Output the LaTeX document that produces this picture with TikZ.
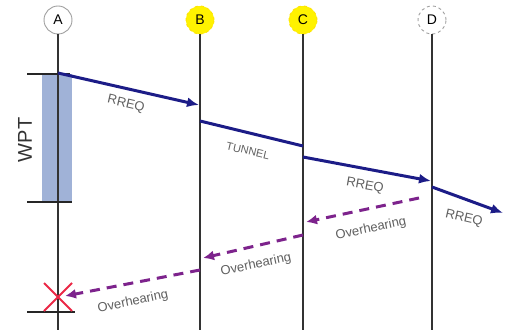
\documentclass[tikz,border=0pt]{standalone}
\usepackage{fontspec}
\setmainfont{Liberation Sans}
\usetikzlibrary{arrows.meta}
\definecolor{navy}{RGB}{28,28,135}
\definecolor{ohpurple}{RGB}{125,35,140}
\definecolor{labelgray}{RGB}{95,95,95}
\definecolor{wptblue}{RGB}{160,178,215}
\definecolor{xred}{RGB}{235,40,70}
\begin{document}
\begin{tikzpicture}[x=1pt,y=-1pt,
  head/.style={circle, draw=gray!75, fill=white, line width=0.9pt,
    minimum size=28pt, inner sep=0pt, font=\fontsize{14}{14}\selectfont},
  activehead/.style={head, fill=yellow, draw=yellow!85!orange, dashed},
  idlehead/.style={head, dashed},
  lifeline/.style={draw=black!80, line width=1.8pt},
  tick/.style={draw=black!85, line width=1.8pt},
  msg/.style={navy, line width=3pt, -{Latex[length=12pt,width=10pt]}},
  tunnelmsg/.style={navy, line width=3pt},
  ohmsg/.style={ohpurple, line width=3pt, dash pattern=on 10pt off 7pt,
    -{Latex[length=11pt,width=10pt]}},
  lbl/.style={text=labelgray, inner sep=0pt, font=\fontsize{13}{13}\selectfont},
  xmark/.style={draw=xred, line width=2pt}
]
\useasboundingbox (0,0) rectangle (505,336);

% waiting period bar at A
\fill[wptblue] (42,74) rectangle (72,202);
\node[rotate=90, text=black!80, font=\fontsize{20}{20}\selectfont] (wpt) at (25,140) {WPT};

% node heads
\node[head] (A) at (58,20) {A};
\node[activehead] (B) at (200,20) {B};
\node[activehead] (C) at (303,20) {C};
\node[idlehead] (D) at (432,20) {D};

% lifeline end points
\coordinate (Aend) at (58,330);
\coordinate (Bend) at (200,330);
\coordinate (Cend) at (303,330);
\coordinate (Dend) at (432,330);

\draw[lifeline] (A) -- (Aend);
\draw[lifeline] (B) -- (Bend);
\draw[lifeline] (C) -- (Cend);
\draw[lifeline] (D) -- (Dend);

% ticks on A
\coordinate (t1a) at (27,74);  \coordinate (t1b) at (70,74);
\coordinate (t2a) at (27,202); \coordinate (t2b) at (72,202);
\coordinate (t3a) at (27,312); \coordinate (t3b) at (75,312);
\draw[tick] (t1a) -- (t1b);
\draw[tick] (t2a) -- (t2b);
\draw[tick] (t3a) -- (t3b);

% message points on the lifelines
\coordinate (A1) at (58,73);
\coordinate (B1) at (199,105);
\coordinate (B2) at (200,121);
\coordinate (C1) at (303,146);
\coordinate (C2) at (303,157);
\coordinate (D1) at (431,181);
\coordinate (D2) at (432,187);
\coordinate (E)  at (503,213);

\draw[msg] (A1) -- (B1);
\draw[tunnelmsg] (B2) -- (C1);
\draw[msg] (C2) -- (D1);
\draw[msg] (D2) -- (E);

\node[lbl, rotate=-13] (l1) at (126,104) {RREQ};
\node[lbl, rotate=-13, font=\fontsize{11}{11}\selectfont] (l2) at (248,151) {TUNNEL};
\node[lbl, rotate=-10] (l3) at (365,186) {RREQ};
\node[lbl, rotate=-13] (l4) at (464,218) {RREQ};

% overheard replies
\coordinate (D3) at (419,198);
\coordinate (C3) at (306,222);
\coordinate (C4) at (303,235);
\coordinate (B3) at (203,258);
\coordinate (B4) at (200,270);
\coordinate (A2) at (65,296);

\draw[ohmsg] (D3) -- (C3);
\draw[ohmsg] (C4) -- (B3);
\draw[ohmsg] (B4) -- (A2);

\node[lbl, rotate=12] (o1) at (371,229) {Overhearing};
\node[lbl, rotate=12] (o2) at (256,265) {Overhearing};
\node[lbl, rotate=12] (o3) at (133,302) {Overhearing};

% lost node A
\coordinate (x1) at (44,283); \coordinate (x2) at (72,311);
\coordinate (x3) at (72,283); \coordinate (x4) at (44,311);
\draw[xmark] (x1) -- (x2);
\draw[xmark] (x3) -- (x4);
\end{tikzpicture}
\end{document}
